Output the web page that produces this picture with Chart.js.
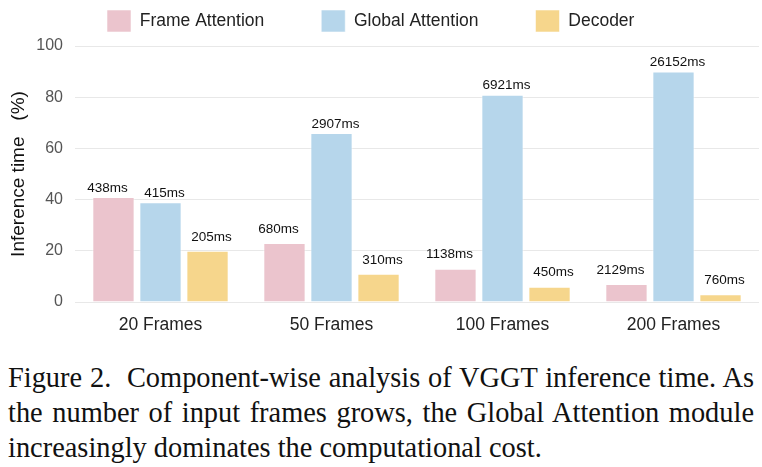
<!DOCTYPE html>
<html>
<head>
<meta charset="utf-8">
<script src="https://cdn.jsdelivr.net/npm/chart.js@4.4.1/dist/chart.umd.min.js"></script>
<style>
  html, body { margin: 0; padding: 0; background: #fff; }
  #wrap { position: relative; width: 762px; height: 355px; }
  .cap {
    position: absolute; left: 8px; top: 360px; width: 746px;
    font-family: "Liberation Serif", "Times New Roman", serif;
    font-size: 28.4px; line-height: 35px; color: #111;
  }
  .cap .j { text-align: justify; text-align-last: justify; white-space: nowrap; }
</style>
</head>
<body>
<div id="wrap"><canvas id="timeChart"></canvas></div>
<div class="cap">
  <div class="j">Figure 2.&nbsp; Component-wise analysis of VGGT inference time. As</div>
  <div class="j">the number of input frames grows, the Global Attention module</div>
  <div>increasingly dominates the computational cost.</div>
</div>
<script>
const categories = ['20 Frames', '50 Frames', '100 Frames', '200 Frames'];
const seriesNames = ['Frame Attention', 'Global Attention', 'Decoder'];
const framePct = [41, 23, 13, 7];
const globalPct = [39, 66, 81, 90];
const decoderPct = [20, 11, 6, 3];
const frameMs = ['438ms', '680ms', '1138ms', '2129ms'];
const globalMs = ['415ms', '2907ms', '6921ms', '26152ms'];
const decoderMs = ['205ms', '310ms', '450ms', '760ms'];
const yTicks = [0, 20, 40, 60, 80, 100];

const colors = ['#ebc4cd', '#b6d6eb', '#f6d68c'];
const msLabels = [frameMs, globalMs, decoderMs];

Chart.defaults.font.family = '"Liberation Sans", Arial, Helvetica, sans-serif';

// move the legend row to where it sits in the figure
const legendPlace = {
    id: 'legendPlace',
    afterLayout(chart) {
        const lg = chart.legend;
        const pad = lg.options.labels.padding;
        lg.left = 107 - pad;
        lg.top = 10 - pad;
    }
};

// ms labels above each bar
const barLabels = {
    id: 'barLabels',
    afterDatasetsDraw(chart) {
        const ctx = chart.ctx;
        const shift = [-6, 4, 4];
        ctx.save();
        ctx.font = '13.5px "Liberation Sans", Arial, sans-serif';
        ctx.fillStyle = '#111';
        ctx.textAlign = 'center';
        ctx.textBaseline = 'middle';
        chart.data.datasets.forEach((ds, di) => {
            chart.getDatasetMeta(di).data.forEach((bar, i) => {
                const lift = ds.data[i] >= 35 ? 9 : 14;
                ctx.fillText(msLabels[di][i], bar.x + shift[di], bar.y - lift);
            });
        });
        ctx.restore();
    }
};

const ctx = document.getElementById('timeChart').getContext('2d');
new Chart(ctx, {
    type: 'bar',
    data: {
        labels: categories,
        datasets: [framePct, globalPct, decoderPct].map((vals, i) => ({
            label: seriesNames[i],
            data: vals,
            backgroundColor: colors[i],
            borderColor: 'rgba(255,255,255,0.55)',
            borderWidth: 1,
            categoryPercentage: 0.825,
            barPercentage: 0.9
        }))
    },
    options: {
        responsive: true,
        maintainAspectRatio: false,
        animation: false,
        layout: { padding: { left: 0, right: 3, top: 0, bottom: 6 } },
        scales: {
            x: {
                grid: { display: false, drawTicks: false },
                border: { display: false },
                ticks: { color: '#222', font: { size: 17.5 }, padding: 13 }
            },
            y: {
                min: 0,
                max: 100,
                afterBuildTicks: s => { s.ticks = yTicks.map(v => ({ value: v })); },
                afterFit: s => { s.width = 75; },
                grid: { color: '#e8e8e8', drawTicks: false },
                border: { display: false },
                ticks: { color: '#555', font: { size: 16 }, padding: 12 },
                title: {
                    display: true,
                    text: 'Inference time   (%)',
                    color: '#111',
                    font: { size: 19 },
                    padding: { top: 7, bottom: 0 }
                }
            }
        },
        plugins: {
            legend: {
                position: 'top',
                align: 'start',
                maxHeight: 46,
                labels: {
                    color: '#222',
                    font: { size: 17.5 },
                    boxWidth: 24,
                    boxHeight: 22,
                    padding: 57
                }
            },
            tooltip: { enabled: false }
        }
    },
    plugins: [legendPlace, barLabels]
});
</script>
</body>
</html>
